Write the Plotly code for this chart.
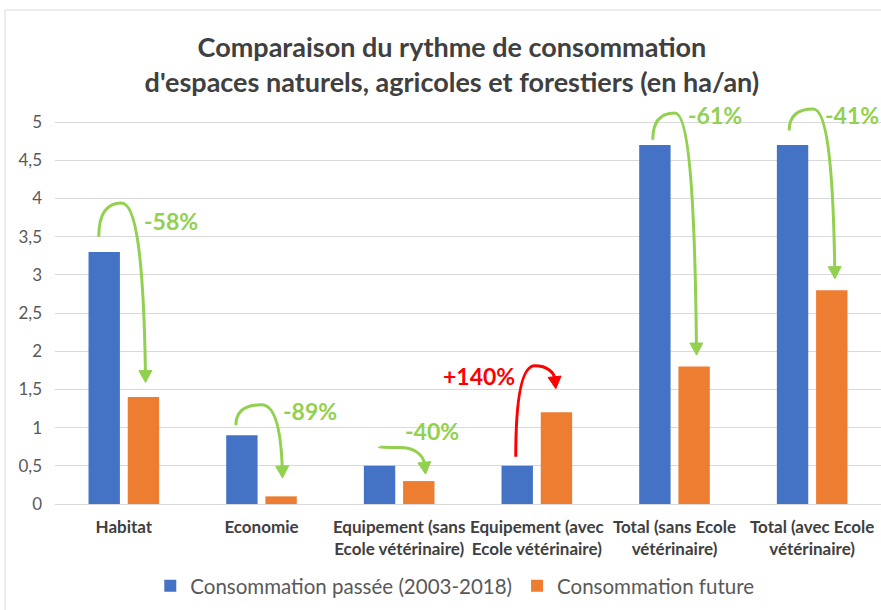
import math
import plotly.graph_objects as go

# ---------------- data ----------------
categories = [
    "Habitat",
    "Economie",
    "Equipement (sans<br>Ecole vétérinaire)",
    "Equipement (avec<br>Ecole vétérinaire)",
    "Total (sans Ecole<br>vétérinaire)",
    "Total (avec Ecole<br>vétérinaire)",
]
conso_passee = [3.3, 0.9, 0.5, 0.5, 4.7, 4.7]
conso_future = [1.4, 0.1, 0.3, 1.2, 1.8, 2.8]
evolution_labels = ["-58%", "-89%", "-40%", "+140%", "-61%", "-41%"]
y_ticks = [0, 0.5, 1, 1.5, 2, 2.5, 3, 3.5, 4, 4.5, 5]

# arrow key points (offset from category index, value)
arrow_start = [(-0.182, 3.50), (-0.186, 1.03), (-0.147, 0.75), (-0.153, 0.62), (-0.158, 4.77), (-0.167, 4.89)]
arrow_peak = [(-0.017, 3.94), (0.0, 1.30), (0.005, 0.74), (-0.015, 1.81), (0.003, 5.12), (0.007, 5.17)]
arrow_tip = [(0.158, 1.59), (0.153, 0.34), (0.192, 0.39), (0.138, 1.51), (0.16, 1.95), (0.165, 2.95)]
label_pos = [(0.341, 3.71), (0.35, 1.22), (0.24, 0.95), (-0.42, 1.67), (0.293, 5.09), (0.29, 5.09)]

BLUE = "#4472C4"
ORANGE = "#ED7D31"
GREEN = "#92D050"
RED = "#FF0000"
FONT = "Lato"

# ---------------- layout geometry ----------------
W, H = 881, 610
ML, MR, MT, MB = 55, 0, 103, 106
Y_MAX = 5.25
n = len(categories)
sx = (W - ML - MR) / n          # px per x unit
sy = (H - MT - MB) / Y_MAX      # px per y unit

x_idx = list(range(n))

fig = go.Figure()
fig.add_trace(go.Bar(x=x_idx, y=conso_passee, name="Consommation passée (2003-2018)",
                     marker=dict(color=BLUE, line=dict(width=0))))
fig.add_trace(go.Bar(x=x_idx, y=conso_future, name="Consommation future",
                     marker=dict(color=ORANGE, line=dict(width=0))))


def to_px(i, p):
    return ((i + p[0]) * sx, p[1] * sy)


def to_data(P):
    return (P[0] / sx, P[1] / sy)


def fmt(P):
    d = to_data(P)
    return f"{d[0]:.5f},{d[1]:.5f}"


shapes = []
# chart frame
shapes.append(dict(type="rect", xref="paper", yref="paper",
                   x0=(5 - ML) / (W - ML - MR), x1=1.02,
                   y0=-0.3, y1=1 + (MT - 10) / (H - MT - MB),
                   line=dict(color="#D9D9D9", width=1), layer="below"))

annotations = []
for i in range(n):
    col = RED if evolution_labels[i].startswith("+") else GREEN
    P0 = to_px(i, arrow_start[i])
    Pk = to_px(i, arrow_peak[i])
    T = to_px(i, arrow_tip[i])
    dx = T[0] - Pk[0]
    dy = Pk[1] - T[1]
    Q = (P0[0], Pk[1])
    C1 = (Pk[0] + 0.6 * dx, Pk[1])
    C2 = (T[0] - 0.08 * dx, Pk[1] - 0.3 * dy)
    vx, vy = T[0] - C2[0], T[1] - C2[1]
    L = math.hypot(vx, vy)
    ux, uy = vx / L, vy / L
    head_len, head_w = 12, 6.5
    B = (T[0] - ux * head_len, T[1] - uy * head_len)
    E = (B[0] + ux * 2, B[1] + uy * 2)
    path = f"M {fmt(P0)} Q {fmt(Q)} {fmt(Pk)} C {fmt(C1)} {fmt(C2)} {fmt(E)}"
    shapes.append(dict(type="path", xref="x", yref="y", path=path,
                       line=dict(color=col, width=3), layer="above"))
    nx, ny = -uy, ux
    h1 = (B[0] + nx * head_w, B[1] + ny * head_w)
    h2 = (B[0] - nx * head_w, B[1] - ny * head_w)
    head = f"M {fmt(T)} L {fmt(h1)} L {fmt(h2)} Z"
    shapes.append(dict(type="path", xref="x", yref="y", path=head,
                       fillcolor=col, line=dict(color=col, width=1), layer="above"))
    annotations.append(dict(x=i + label_pos[i][0], y=label_pos[i][1], xref="x", yref="y",
                            text=f"<b>{evolution_labels[i]}</b>", showarrow=False,
                            font=dict(family=FONT, size=23, color=col),
                            xanchor="center", yanchor="middle"))

fig.update_layout(
    width=W, height=H,
    margin=dict(l=ML, r=MR, t=MT, b=MB, pad=0),
    paper_bgcolor="white", plot_bgcolor="white",
    separators=", ",
    barmode="group", bargap=0.43, bargroupgap=0.2,
    font=dict(family=FONT, color="#595959"),
    title=dict(text="<b>Comparaison du rythme de consommation<br>d'espaces naturels, agricoles et forestiers (en ha/an)</b>",
               x=0.513, xref="container", xanchor="center",
               y=1 - 56.5 / H, yref="container", yanchor="middle",
               font=dict(family=FONT, size=27, color="#404040")),
    xaxis=dict(range=[-0.5, n - 0.5], tickmode="array", tickvals=x_idx,
               ticktext=[f"<b>{c}</b>" for c in categories],
               tickfont=dict(family=FONT, size=17, color="#404040"),
               showgrid=False, zeroline=False, showline=False, ticks="",
               ticklabelstandoff=11, fixedrange=True),
    yaxis=dict(range=[0, Y_MAX], tickmode="array", tickvals=y_ticks,
               showgrid=True, gridcolor="#D9D9D9", gridwidth=1,
               zeroline=True, zerolinecolor="#D9D9D9", zerolinewidth=1,
               showline=False, ticks="", ticklabelstandoff=12,
               tickfont=dict(family=FONT, size=17, color="#595959")),
    legend=dict(orientation="h", x=0.484, xanchor="center", y=-0.204, yanchor="middle",
                font=dict(family=FONT, size=20.5, color="#595959"), itemwidth=30,
                traceorder="normal"),
    shapes=shapes,
    annotations=annotations,
)

fig.write_html("out.html", config={"displayModeBar": False},
               post_script="document.body.style.margin='0';")
